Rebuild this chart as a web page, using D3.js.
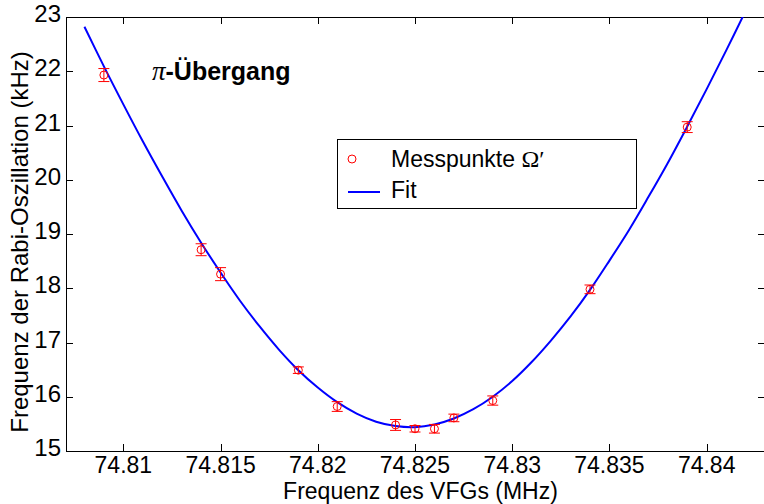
<!DOCTYPE html>
<html><head><meta charset="utf-8">
<script src="https://cdn.jsdelivr.net/npm/d3@7"></script>
<style>
body{margin:0;background:#fff}
svg{display:block}
text{font-family:"Liberation Sans",Arial,sans-serif;fill:#000}
</style>
</head><body>
<svg id="c" width="764" height="504"></svg>
<script>
// Measured points (Messpunkte Ω')
const freqs = [74.809, 74.814, 74.815, 74.819, 74.821, 74.824, 74.825, 74.826, 74.827, 74.829, 74.834, 74.839];
const rabi  = [21.93, 18.71, 18.26, 16.49, 15.82, 15.48, 15.41, 15.41, 15.61, 15.93, 17.98, 20.97];
const errs  = [0.12, 0.11, 0.12, 0.06, 0.09, 0.10, 0.06, 0.08, 0.07, 0.085, 0.08, 0.10];

// Fit curve
const fitFreqs = [74.808, 74.809, 74.810, 74.811, 74.812, 74.813, 74.814, 74.815, 74.816, 74.817, 74.818, 74.819, 74.820, 74.821, 74.822, 74.823, 74.824, 74.825, 74.826, 74.827, 74.828, 74.829, 74.830, 74.831, 74.832, 74.833, 74.834, 74.835, 74.836, 74.837, 74.838, 74.839, 74.840, 74.841, 74.842];
const fitRabi  = [22.82, 22.09, 21.39, 20.71, 20.06, 19.43, 18.84, 18.29, 17.77, 17.30, 16.87, 16.49, 16.17, 15.90, 15.69, 15.54, 15.46, 15.44, 15.49, 15.60, 15.77, 16.00, 16.29, 16.64, 17.04, 17.48, 17.97, 18.51, 19.07, 19.68, 20.31, 20.98, 21.67, 22.38, 23.11];

const xTicks = [74.81, 74.815, 74.82, 74.825, 74.83, 74.835, 74.84];
const xTickLabels = ["74.81", "74.815", "74.82", "74.825", "74.83", "74.835", "74.84"];
const yTicks = [15, 16, 17, 18, 19, 20, 21, 22, 23];
const yTickLabels = ["15", "16", "17", "18", "19", "20", "21", "22", "23"];

const svg = d3.select("#c");
const L = 66, R = 765, T = 17, B = 451;
const x = d3.scaleLinear().domain([74.807, 74.843]).range([L - 1, R]);
const y = d3.scaleLinear().domain([15, 23]).range([B, T]);

svg.append("defs").append("clipPath").attr("id", "clip")
  .append("rect").attr("x", L).attr("y", T).attr("width", R - L).attr("height", B - T);

// ticks inside, all four sides
const tl = 7;
const g = svg.append("g").attr("stroke", "#000").attr("stroke-width", 1);
xTicks.forEach(v => {
  const px = Math.round(x(v)) + 0.5;
  g.append("line").attr("x1", px).attr("x2", px).attr("y1", B).attr("y2", B - tl);
  g.append("line").attr("x1", px).attr("x2", px).attr("y1", T).attr("y2", T + tl);
});
yTicks.forEach(v => {
  const py = Math.round(y(v)) + 0.5;
  g.append("line").attr("x1", L).attr("x2", L + tl).attr("y1", py).attr("y2", py);
  g.append("line").attr("x1", R - tl).attr("x2", R).attr("y1", py).attr("y2", py);
});
// spines
svg.append("rect").attr("x", L + 0.5).attr("y", T + 0.5).attr("width", R - L).attr("height", B - T)
  .attr("fill", "none").attr("stroke", "#000").attr("stroke-width", 1);

// tick labels
svg.append("g").selectAll("text").data(xTicks).join("text")
  .attr("x", d => x(d)).attr("y", 473).attr("text-anchor", "middle")
  .attr("font-size", 23).text((d, i) => xTickLabels[i]);
svg.append("g").selectAll("text").data(yTicks).join("text")
  .attr("x", 61).attr("y", d => y(d) + 5).attr("text-anchor", "end")
  .attr("font-size", 24).text((d, i) => yTickLabels[i]);

// axis titles
svg.append("text").attr("x", (L + R) / 2 + 5).attr("y", 499).attr("text-anchor", "middle")
  .attr("font-size", 23).text("Frequenz des VFGs (MHz)");
svg.append("text").attr("transform", "translate(28," + 242 + ") rotate(-90)")
  .attr("text-anchor", "middle").attr("font-size", 24).text("Frequenz der Rabi-Oszillation (kHz)");

// fit line
const line = d3.line().x((d, i) => x(fitFreqs[i])).y(d => y(d)).curve(d3.curveCatmullRom);
svg.append("path").attr("clip-path", "url(#clip)").datum(fitRabi)
  .attr("d", line).attr("fill", "none").attr("stroke", "#0000ff").attr("stroke-width", 2);

// error bars + markers
const eb = svg.append("g").attr("stroke", "#ff0000").attr("stroke-width", 1).attr("fill", "none");
freqs.forEach((f, i) => {
  const px = x(f), y1 = y(rabi[i] + errs[i]), y2 = y(rabi[i] - errs[i]);
  eb.append("line").attr("x1", px).attr("x2", px).attr("y1", y1).attr("y2", y2);
  eb.append("line").attr("x1", px - 5.5).attr("x2", px + 5.5).attr("y1", y1).attr("y2", y1);
  eb.append("line").attr("x1", px - 5.5).attr("x2", px + 5.5).attr("y1", y2).attr("y2", y2);
  eb.append("circle").attr("cx", px).attr("cy", y(rabi[i])).attr("r", 4);
});

// annotation
const ann = svg.append("text").attr("x", 152).attr("y", 80).attr("font-size", 25);
ann.append("tspan").attr("font-family", "'Liberation Serif',serif").attr("font-style", "italic").attr("font-size", 27).text("π");
ann.append("tspan").attr("font-weight", "bold").text("-Übergang");

// legend
svg.append("rect").attr("x", 337.5).attr("y", 139.5).attr("width", 299).attr("height", 69)
  .attr("fill", "#fff").attr("stroke", "#000").attr("stroke-width", 1);
svg.append("circle").attr("cx", 352).attr("cy", 159).attr("r", 4)
  .attr("fill", "none").attr("stroke", "#ff0000").attr("stroke-width", 1);
const lt = svg.append("text").attr("x", 391).attr("y", 167).attr("font-size", 23);
lt.append("tspan").text("Messpunkte ");
lt.append("tspan").attr("font-family", "'Liberation Serif',serif").attr("font-size", 24).text("Ω′");
svg.append("line").attr("x1", 348).attr("x2", 380).attr("y1", 192).attr("y2", 192)
  .attr("stroke", "#0000ff").attr("stroke-width", 2);
svg.append("text").attr("x", 391).attr("y", 198).attr("font-size", 23).text("Fit");
</script>
</body></html>
